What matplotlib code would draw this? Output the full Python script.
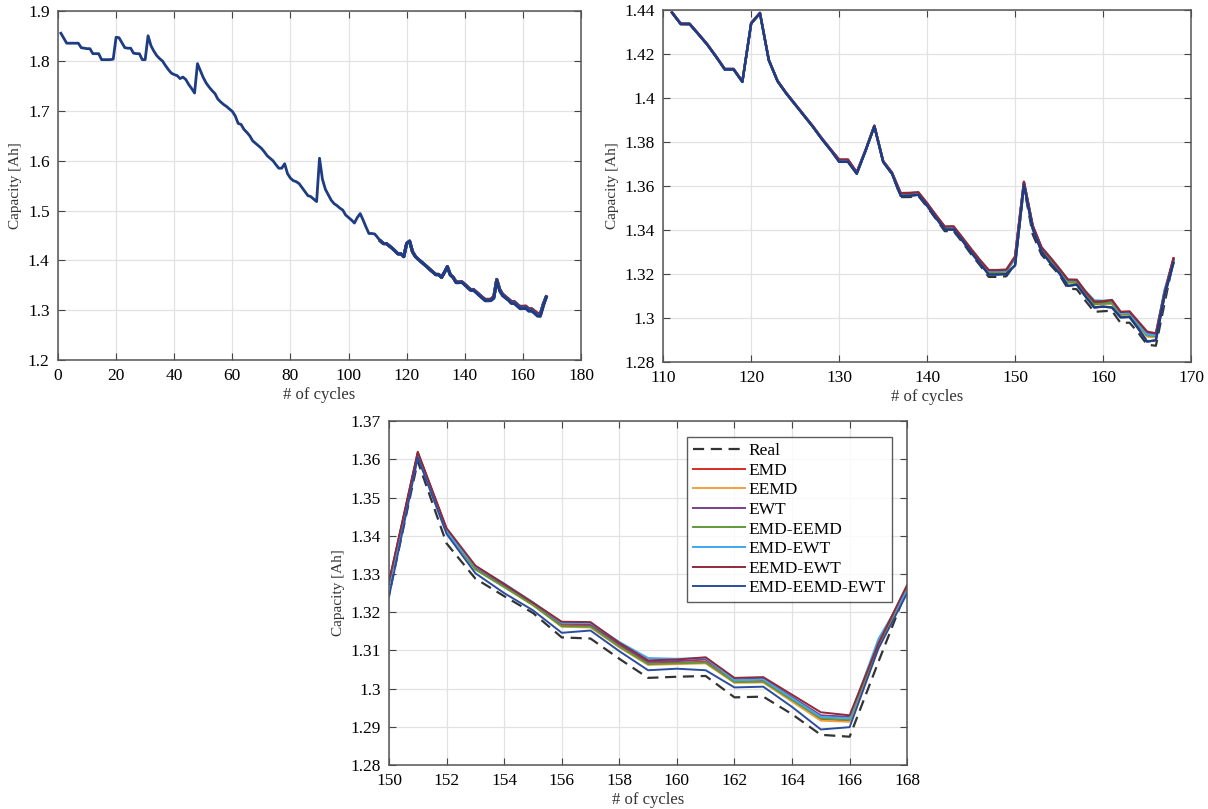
import matplotlib
matplotlib.use("Agg")
import matplotlib.pyplot as plt
from matplotlib.ticker import FuncFormatter, MultipleLocator

plt.rcParams['font.family'] = ['Liberation Serif', 'DejaVu Serif']

# measured capacity, cycles 1..168
cycles = list(range(1, 169))
real = [
    1.856, 1.846, 1.836, 1.836, 1.836, 1.836, 1.836, 1.827, 1.826, 1.825,
    1.825, 1.815, 1.815, 1.815, 1.803, 1.803, 1.803, 1.803, 1.804, 1.848,
    1.847, 1.837, 1.827, 1.826, 1.826, 1.816, 1.815, 1.815, 1.803, 1.803,
    1.851, 1.831, 1.820, 1.811, 1.805, 1.800, 1.791, 1.783, 1.776, 1.773,
    1.771, 1.765, 1.768, 1.763, 1.753, 1.745, 1.736, 1.795, 1.781, 1.767,
    1.756, 1.748, 1.741, 1.735, 1.724, 1.718, 1.713, 1.709, 1.704, 1.699,
    1.690, 1.675, 1.673, 1.663, 1.657, 1.650, 1.640, 1.635, 1.630, 1.625,
    1.618, 1.610, 1.605, 1.600, 1.592, 1.585, 1.585, 1.594, 1.574, 1.565,
    1.560, 1.558, 1.554, 1.546, 1.538, 1.530, 1.528, 1.523, 1.518, 1.605,
    1.563, 1.543, 1.532, 1.521, 1.514, 1.510, 1.505, 1.501, 1.491, 1.486,
    1.481, 1.475, 1.486, 1.494, 1.481, 1.467, 1.454, 1.454, 1.453, 1.446,
    1.4388, 1.4336, 1.4336, 1.4290, 1.4243, 1.4188, 1.4130, 1.4130, 1.4073, 1.4339,
    1.4385, 1.4172, 1.4076, 1.4020, 1.3970, 1.3920, 1.3870, 1.3815, 1.3765, 1.3712,
    1.3712, 1.3656, 1.3760, 1.3871, 1.3709, 1.3656, 1.3550, 1.3550, 1.3555, 1.3505,
    1.3450, 1.3395, 1.3395, 1.3345, 1.3290, 1.3240, 1.3187, 1.3187, 1.3190, 1.3245,
    1.3595, 1.3380, 1.3288, 1.3242, 1.3198, 1.3134, 1.3131, 1.3078, 1.3028, 1.3031,
    1.3033, 1.2977, 1.2979, 1.2933, 1.2879, 1.2874, 1.3070, 1.3262,
]

# predictions, cycles 111..168
pred_cycles = list(range(111, 169))

emd = [
    1.4389, 1.4337, 1.4337, 1.4291, 1.4244, 1.4189, 1.4131, 1.4131, 1.4075, 1.4340,
    1.4386, 1.4173, 1.4077, 1.4021, 1.3971, 1.3921, 1.3871, 1.3817, 1.3767, 1.3716,
    1.3716, 1.3660, 1.3762, 1.3873, 1.3712, 1.3659, 1.3562, 1.3563, 1.3566, 1.3516,
    1.3462, 1.3410, 1.3410, 1.3360, 1.3308, 1.3258, 1.3210, 1.3210, 1.3212, 1.3275,
    1.3618, 1.3418, 1.3318, 1.3272, 1.3222, 1.3166, 1.3164, 1.3113, 1.3066, 1.3068,
    1.3070, 1.3018, 1.3020, 1.2970, 1.2920, 1.2916, 1.3115, 1.3265,
]
eemd = [
    1.4388, 1.4336, 1.4336, 1.4290, 1.4243, 1.4188, 1.4130, 1.4130, 1.4074, 1.4339,
    1.4385, 1.4172, 1.4076, 1.4020, 1.3970, 1.3920, 1.3870, 1.3816, 1.3766, 1.3715,
    1.3715, 1.3659, 1.3761, 1.3872, 1.3711, 1.3658, 1.3560, 1.3561, 1.3564, 1.3514,
    1.3460, 1.3408, 1.3408, 1.3358, 1.3306, 1.3255, 1.3207, 1.3207, 1.3209, 1.3272,
    1.3612, 1.3412, 1.3312, 1.3266, 1.3218, 1.3162, 1.3160, 1.3108, 1.3062, 1.3064,
    1.3066, 1.3015, 1.3016, 1.2966, 1.2916, 1.2913, 1.3105, 1.3260,
]
ewt = [
    1.4390, 1.4338, 1.4338, 1.4292, 1.4245, 1.4190, 1.4132, 1.4132, 1.4076, 1.4341,
    1.4387, 1.4174, 1.4078, 1.4022, 1.3972, 1.3922, 1.3872, 1.3818, 1.3768, 1.3718,
    1.3718, 1.3661, 1.3763, 1.3874, 1.3713, 1.3660, 1.3565, 1.3566, 1.3568, 1.3518,
    1.3464, 1.3412, 1.3413, 1.3362, 1.3310, 1.3260, 1.3213, 1.3213, 1.3215, 1.3278,
    1.3615, 1.3416, 1.3318, 1.3270, 1.3224, 1.3170, 1.3168, 1.3116, 1.3070, 1.3072,
    1.3076, 1.3024, 1.3026, 1.2978, 1.2930, 1.2926, 1.3120, 1.3268,
]
emd_eemd = [
    1.4389, 1.4337, 1.4337, 1.4291, 1.4244, 1.4189, 1.4131, 1.4131, 1.4075, 1.4340,
    1.4386, 1.4173, 1.4077, 1.4021, 1.3971, 1.3921, 1.3871, 1.3817, 1.3767, 1.3716,
    1.3716, 1.3660, 1.3762, 1.3873, 1.3712, 1.3659, 1.3562, 1.3563, 1.3566, 1.3516,
    1.3462, 1.3410, 1.3410, 1.3360, 1.3308, 1.3258, 1.3210, 1.3210, 1.3212, 1.3275,
    1.3612, 1.3413, 1.3312, 1.3266, 1.3219, 1.3163, 1.3162, 1.3110, 1.3064, 1.3066,
    1.3068, 1.3017, 1.3018, 1.2970, 1.2922, 1.2918, 1.3118, 1.3262,
]
emd_ewt = [
    1.4390, 1.4338, 1.4338, 1.4292, 1.4245, 1.4190, 1.4132, 1.4132, 1.4076, 1.4341,
    1.4387, 1.4174, 1.4078, 1.4022, 1.3972, 1.3922, 1.3872, 1.3818, 1.3768, 1.3719,
    1.3719, 1.3662, 1.3763, 1.3874, 1.3713, 1.3661, 1.3566, 1.3567, 1.3570, 1.3520,
    1.3466, 1.3414, 1.3415, 1.3364, 1.3312, 1.3262, 1.3215, 1.3215, 1.3217, 1.3270,
    1.3608, 1.3410, 1.3320, 1.3275, 1.3226, 1.3172, 1.3172, 1.3122, 1.3080, 1.3078,
    1.3080, 1.3022, 1.3024, 1.2975, 1.2926, 1.2922, 1.3130, 1.3258,
]
eemd_ewt = [
    1.4391, 1.4339, 1.4339, 1.4293, 1.4246, 1.4191, 1.4133, 1.4133, 1.4077, 1.4342,
    1.4388, 1.4175, 1.4079, 1.4023, 1.3973, 1.3923, 1.3873, 1.3819, 1.3769, 1.3721,
    1.3721, 1.3663, 1.3764, 1.3875, 1.3714, 1.3662, 1.3568, 1.3569, 1.3572, 1.3522,
    1.3468, 1.3416, 1.3417, 1.3366, 1.3314, 1.3264, 1.3218, 1.3218, 1.3220, 1.3280,
    1.3620, 1.3420, 1.3322, 1.3274, 1.3225, 1.3175, 1.3174, 1.3120, 1.3074, 1.3076,
    1.3082, 1.3028, 1.3030, 1.2984, 1.2938, 1.2930, 1.3118, 1.3272,
]
emd_eemd_ewt = [
    1.4388, 1.4336, 1.4336, 1.4290, 1.4243, 1.4188, 1.4130, 1.4130, 1.4073, 1.4339,
    1.4385, 1.4172, 1.4076, 1.4020, 1.3970, 1.3920, 1.3870, 1.3815, 1.3765, 1.3710,
    1.3710, 1.3655, 1.3760, 1.3871, 1.3709, 1.3656, 1.3555, 1.3556, 1.3560, 1.3510,
    1.3455, 1.3402, 1.3402, 1.3352, 1.3298, 1.3248, 1.3198, 1.3198, 1.3200, 1.3240,
    1.3605, 1.3405, 1.3302, 1.3250, 1.3205, 1.3146, 1.3152, 1.3098, 1.3048, 1.3052,
    1.3048, 1.3003, 1.3005, 1.2952, 1.2893, 1.2899, 1.3105, 1.3250,
]

labels = ['EMD', 'EEMD', 'EWT', 'EMD-EEMD', 'EMD-EWT', 'EEMD-EWT', 'EMD-EEMD-EWT']
preds = [emd, eemd, ewt, emd_eemd, emd_ewt, eemd_ewt, emd_eemd_ewt]
colors = ['#D62D20', '#F0A040', '#7B3F8C', '#5E9A3A', '#3FA8F0', '#8E2A3A', '#2A4DA0']

fmt = FuncFormatter(lambda v, p: '%g' % round(v, 4))


def style(ax, xlim, ylim, xstep, ystep):
    ax.set_xlim(*xlim)
    ax.set_ylim(*ylim)
    ax.xaxis.set_major_locator(MultipleLocator(xstep))
    ax.yaxis.set_major_locator(MultipleLocator(ystep))
    ax.yaxis.set_major_formatter(fmt)
    ax.xaxis.set_major_formatter(fmt)
    ax.grid(True, color='#e2e2e2', lw=0.9)
    ax.set_axisbelow(True)
    ax.tick_params(direction='in', top=True, right=True, labelsize=12.5,
                   length=5, color='#444444', pad=6)
    for s in ax.spines.values():
        s.set_color('#555555')
        s.set_linewidth(1.1)
    ax.set_xlabel('# of cycles', fontsize=12, color='#333333', labelpad=2)
    ax.set_ylabel('Capacity [Ah]', fontsize=11, color='#333333', labelpad=4)


fig = plt.figure(figsize=(12.08, 8.09), dpi=100)

# top left: full life
ax1 = fig.add_axes([0.048, 0.555, 0.433, 0.431])
for y, c in zip(preds, colors):
    ax1.plot(pred_cycles, y, color=c, lw=2.2)
ax1.plot(cycles, real, color='#1E3C82', lw=2.0)
style(ax1, (0, 180), (1.2, 1.9), 20, 0.1)

# top right: prediction region
ax2 = fig.add_axes([0.549, 0.5525, 0.437, 0.435])
ax2.plot(cycles, real, color='#333333', lw=1.6, ls=(0, (5, 3)))
for y, c in zip(preds, colors):
    ax2.plot(pred_cycles, y, color=c, lw=1.7)
ax2.plot(pred_cycles, emd_eemd_ewt, color='#1E3C82', lw=1.5)
style(ax2, (110, 170), (1.28, 1.44), 10, 0.02)

# bottom: zoom 150..168
ax3 = fig.add_axes([0.322, 0.0544, 0.429, 0.425])
ax3.plot(cycles, real, color='#333333', lw=1.6, ls=(0, (5, 3)), label='Real')
for y, c, l in zip(preds, colors, labels):
    ax3.plot(pred_cycles, y, color=c, lw=1.4, label=l)
style(ax3, (150, 168), (1.28, 1.37), 2, 0.01)
leg = ax3.legend(loc='upper right', fontsize=12.5, frameon=True, fancybox=False,
                 edgecolor='#333333', handlelength=3.0, borderpad=0.35,
                 labelspacing=0.2, handletextpad=0.2, borderaxespad=0.9)
leg.get_frame().set_linewidth(1.0)

fig.savefig('out.png', dpi=100)
